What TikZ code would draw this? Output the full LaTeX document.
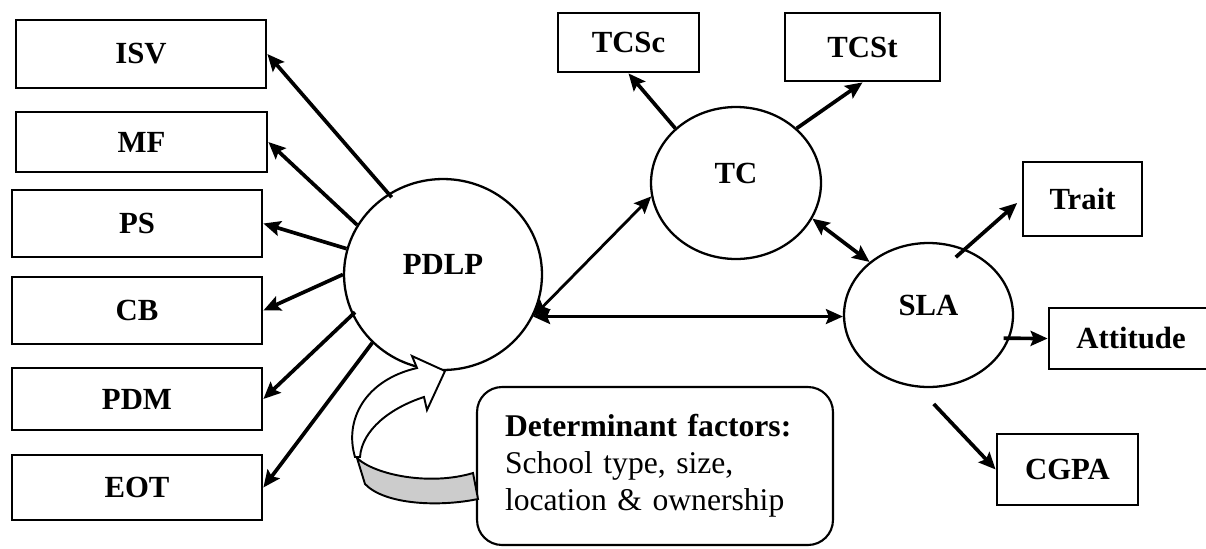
\documentclass[tikz,border=0pt]{standalone}
\usepackage{fontspec}
\setmainfont{Liberation Serif}
\usetikzlibrary{shapes.geometric,arrows.meta}

\newcommand{\lblfont}{\bfseries\fontsize{17.5}{20}\selectfont}

\begin{document}
\begin{tikzpicture}[x=0.02cm,y=-0.02cm,
    >={Stealth[length=0.34cm,width=0.3cm,inset=0.06cm]},
    box/.style={draw,line width=1.6pt,inner sep=0pt,font=\lblfont},
    latent/.style={draw,ellipse,line width=1.3pt,inner sep=0pt,
      label={[yshift=0.2cm,font=\lblfont]center:#1}},
    arw/.style={line width=2.1pt}]
    \useasboundingbox (0,0) rectangle (1206,548);

    % Left indicators
    \node[box,minimum width=5cm,minimum height=1.36cm] (ISV) at (141,54) {ISV};
    \node[box,minimum width=5.02cm,minimum height=1.2cm] (MF) at (141.5,142) {MF};
    \node[box,minimum width=5cm,minimum height=1.34cm] (PS) at (137,223.5) {PS};
    \node[box,minimum width=5cm,minimum height=1.34cm] (CB) at (137,310.5) {CB};
    \node[box,minimum width=5cm,minimum height=1.24cm] (PDM) at (137,399) {PDM};
    \node[box,minimum width=5cm,minimum height=1.3cm] (EOT) at (137,487.5) {EOT};

    % Latent variables
    \node[latent=PDLP,minimum width=3.96cm,minimum height=3.82cm] (PDLP) at (443,274.5) {};
    \node[latent=TC,minimum width=3.4cm,minimum height=3.04cm] (TC) at (736,183) {};
    \node[latent=SLA,minimum width=3.38cm,minimum height=2.88cm] (SLA) at (928.5,315) {};

    % Right indicators
    \node[box,minimum width=2.82cm,minimum height=1.18cm] (TCSc) at (628.5,42.5) {TCSc};
    \node[box,minimum width=3.1cm,minimum height=1.36cm] (TCSt) at (862.5,47) {TCSt};
    \node[box,minimum width=2.38cm,minimum height=1.48cm] (Trait) at (1082.5,199) {Trait};
    \node[box,minimum width=3.28cm,minimum height=1.22cm] (Attitude) at (1131,338.5) {Attitude};
    \node[box,minimum width=2.82cm,minimum height=1.42cm] (CGPA) at (1067.5,469.5) {CGPA};

    % Factors box
    \node[draw,line width=1.2pt,rounded corners=0.5cm,text width=6cm,inner xsep=0.56cm,
      minimum height=3.16cm,align=left,font=\fontsize{18}{21}\selectfont] (factors) at (655,466)
      {\textbf{Determinant factors:}\\School type, size,\\location \& ownership};

    % PDLP arrows
    \draw[arw,->,shorten <=-0.1cm] (PDLP.124) -- (ISV.east);
    \draw[arw,->] (PDLP.150) -- (MF.east);
    \draw[arw,->] (PDLP.165) -- (PS.east);
    \draw[arw,->] (PDLP.180) -- (CB.east);
    \draw[arw,->,shorten <=-0.08cm] (PDLP.204) -- (PDM.east);
    \draw[arw,->] (PDLP.224) -- (EOT.east);

    % TC arrows
    \draw[arw,->] (TC.138) -- (TCSc.south);
    \draw[arw,->] (TC.42) -- (TCSt.south);

    % SLA arrows
    \draw[arw,->,shorten <=-0.25cm,shorten >=0.12cm] (SLA.61) -- (Trait.west);
    \draw[arw,->,shorten <=-0.12cm] (SLA.-16) -- (Attitude.west);
    \draw[arw,->,shorten <=0.45cm] (SLA.-98) -- (CGPA.west);

    % Paths between latents
    \draw[line width=1.6pt,<->] (PDLP.335) -- (TC.189);
    \draw[line width=1.6pt,<->] (PDLP.335) -- (PDLP.335 -| SLA.west);
    \draw[arw,<->] (TC.335) -- (SLA.138);

    % Curved arrow from factors to PDLP
    \filldraw[fill=gray!40,line width=1.1pt] (357,458) .. controls (375,475) and (430,486) .. (473,473)
      -- (478,499) .. controls (440,507) and (385,505) .. (365,484) -- cycle;
    \filldraw[fill=white,line width=1.1pt] (355,457) .. controls (344,420) and (365,380) .. (417,368)
      -- (412,356) -- (445,371) -- (427,410) -- (424,397)
      .. controls (390,408) and (362,430) .. (360,457) -- cycle;
\end{tikzpicture}
\end{document}
